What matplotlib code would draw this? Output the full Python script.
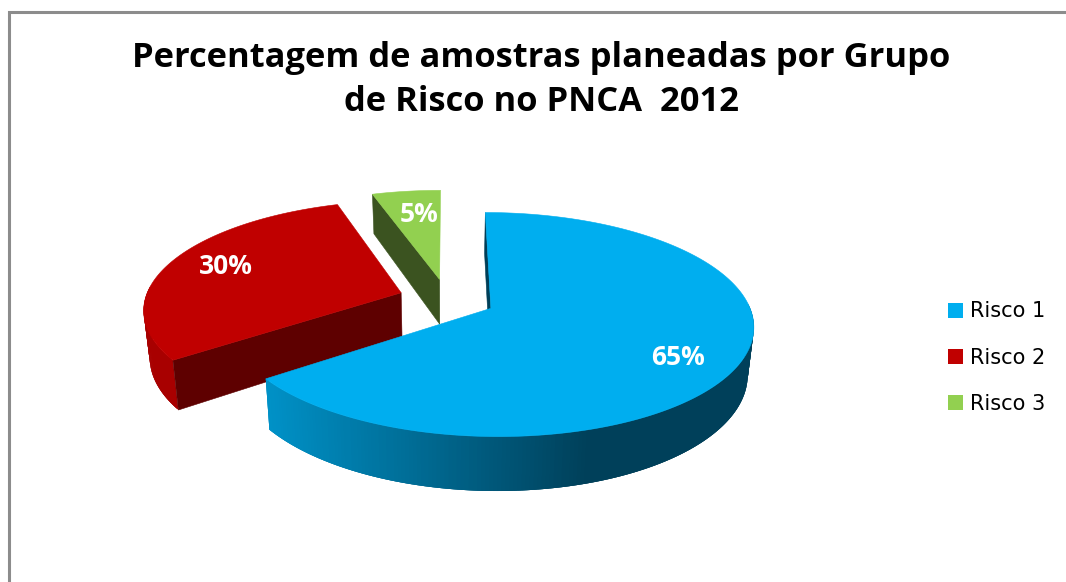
import numpy as np
import matplotlib
matplotlib.use('Agg')
import matplotlib.pyplot as plt
from matplotlib.colors import LinearSegmentedColormap
from matplotlib.patches import Patch

# Chart data
categories = ['Risco 1', 'Risco 2', 'Risco 3']
shares = [65, 30, 5]
title = 'Percentagem de amostras planeadas por Grupo\nde Risco no PNCA  2012'

top_colors = ['#00AEEF', '#C00000', '#92D050']
face_colors = ['#003F58', '#5E0000', '#3B5320']
rim_stops = [['#0092C8', '#00405A', '#00405A'],
             ['#A80000', '#A00000', '#A00000'],
             ['#3B5320', '#3B5320', '#3B5320']]

# Pie geometry in figure pixels
cx, cy = 447, 299
rx, ry = 256, 107
persp = 1/7      # front of the disc looks bigger than the back
depth = 46
shrink = 0.02    # lower face is slightly narrower
explode = 0.19
label_pos = 0.77
label_nudge = [(-3, 9), (3, -2), (6, 5)]


def project(u, v, z=0.0):
    s = 1/(1 - persp*v)
    x = cx + rx*u*s*(1 - shrink*z)
    y = cy + ry*v*s + depth*z*s
    return x, y


def disc_point(t, off, r=1.0):
    # t is clockwise from twelve o'clock, v grows towards the viewer
    return off[0] + r*np.sin(t), off[1] - r*np.cos(t)


fig = plt.figure(figsize=(10.66, 5.82), dpi=100)
ax = fig.add_axes([0, 0, 1, 1])
ax.set_xlim(0, 1066)
ax.set_ylim(582, 0)
ax.axis('off')

# Chart frame: left and top edges only
ax.plot([9, 9, 1066], [582, 11.5, 11.5], color='#8C8C8C', lw=2.2, solid_joinstyle='miter')

# Slice angles
edges = np.cumsum([0] + shares)/sum(shares)*2*np.pi
slices = []
for i in range(len(shares)):
    t0, t1 = edges[i], edges[i+1]
    mid = (t0 + t1)/2
    off = (explode*np.sin(mid), -explode*np.cos(mid))
    slices.append((i, t0, t1, mid, off))

# Back to front: green, red, blue
for i, t0, t1, mid, off in [slices[2], slices[1], slices[0]]:
    ts = np.linspace(t0, t1, 300)
    u, v = disc_point(ts, off)

    # Outer rim, shaded along x
    cmap = LinearSegmentedColormap.from_list('rim', rim_stops[i])
    xa, ya = project(u, v, 0)
    xb, yb = project(u, v, 1)
    for k in range(len(ts) - 1):
        if np.cos(ts[k]) > 0.05:
            continue
        m = min(k + 3, len(ts) - 1)   # overlap neighbours so no seams show
        frac = np.clip((xa[k] - 264)/(590 - 264), 0, 1)
        ax.fill([xa[k], xa[m], xb[m], xb[k]], [ya[k], ya[m], yb[m], yb[k]],
                color=cmap(frac*0.5), lw=0, zorder=2+i*-1)

    # Flat radial face at the start of the slice
    ue, ve = disc_point(t0, off)
    ua, va = off
    pts = [project(ua, va, 0), project(ue, ve, 0), project(ue, ve, 1), project(ua, va, 1)]
    ax.fill([p[0] for p in pts], [p[1] for p in pts], color=face_colors[i], lw=0.4,
            zorder=2+i*-1)

    # Top surface
    tx, ty = project(np.r_[off[0], u], np.r_[off[1], v], 0)
    ax.fill(tx, ty, color=top_colors[i], lw=0.4, zorder=3+i*-1)

    # Percentage label
    lu, lv = disc_point(mid, off, label_pos)
    lx, ly = project(lu, lv, 0)
    ax.text(lx + label_nudge[i][0], ly + label_nudge[i][1], f'{shares[i]}%', color='white',
            fontsize=19, fontweight='bold', family='Open Sans', ha='center', va='center', zorder=6)

ax.text(541, 80, title, fontsize=24.8, fontweight='bold', family='Open Sans',
        ha='center', va='center', linespacing=1.39, color='black')

handles = [Patch(facecolor=c, edgecolor='none') for c in top_colors]
ax.legend(handles, categories, loc='center left', bbox_to_anchor=(948/1066, 1 - 357.5/582),
          frameon=False, handlelength=0.72, handleheight=0.72,
          handletextpad=0.34, labelspacing=1.25, borderpad=0, borderaxespad=0,
          prop={'family': 'DejaVu Sans', 'size': 15})

fig.savefig('out.png', dpi=100)
